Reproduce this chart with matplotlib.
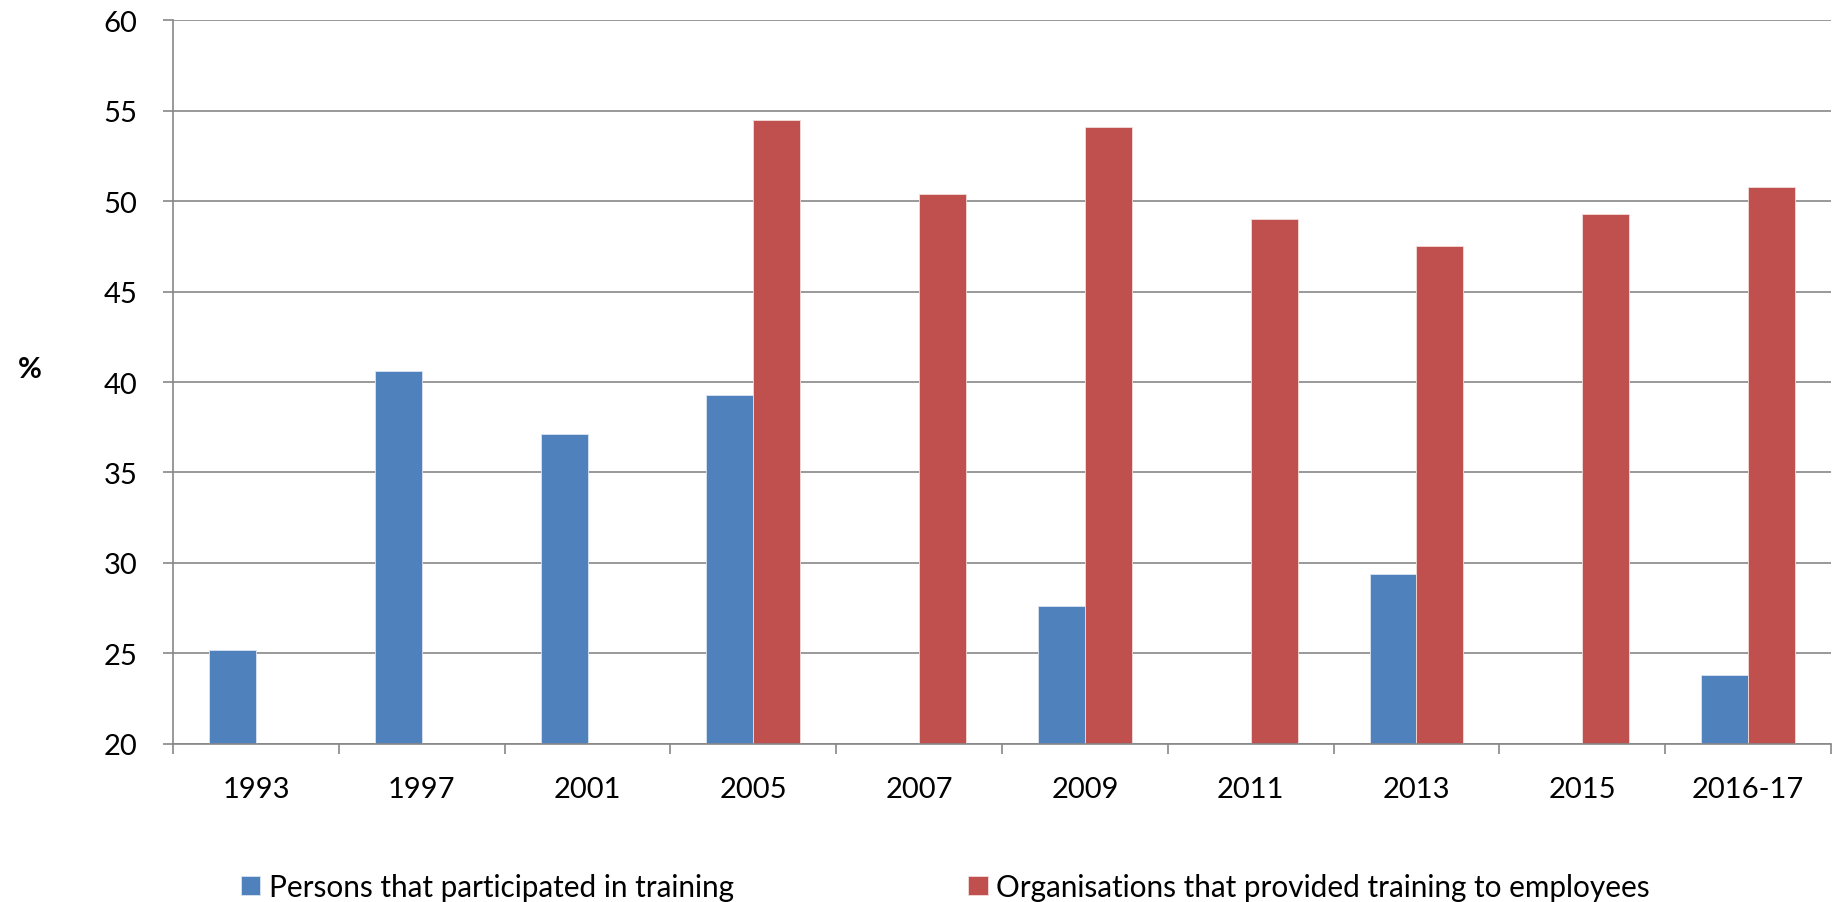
import matplotlib.pyplot as plt
import numpy as np

plt.rcParams['font.family'] = ['Lato', 'DejaVu Sans']

# survey years and the two series (%), nan where there is no figure
years = ['1993', '1997', '2001', '2005', '2007', '2009', '2011', '2013', '2015', '2016-17']
persons = [25.2, 40.6, 37.1, 39.3, np.nan, 27.6, np.nan, 29.4, np.nan, 23.8]
organisations = [np.nan, np.nan, np.nan, 54.5, 50.4, 54.1, 49.0, 47.5, 49.3, 50.8]
series_names = ['Persons that participated in training',
                'Organisations that provided training to employees']

blue = '#4F81BD'
red = '#C0504D'
grid_grey = '#878787'

fig = plt.figure(figsize=(18.45, 9.03), dpi=100)
ax = fig.add_axes([0.0938, 0.175, 0.8986, 0.8017])

x = np.arange(len(years))
w = 0.283
b1 = ax.bar(x - w / 2, persons, w, color=blue, edgecolor='#dbe5f1', linewidth=0.6,
            label=series_names[0])
b2 = ax.bar(x + w / 2, organisations, w, color=red, edgecolor='#f2dcdb', linewidth=0.6,
            label=series_names[1])

ax.set_xlim(-0.5, len(years) - 0.5)
ax.set_ylim(20, 60)
ax.set_yticks(np.arange(20, 61, 5))
ax.yaxis.grid(True, color=grid_grey, linewidth=1.2)
ax.set_axisbelow(True)

# category labels in the middle, small ticks on the boundaries
ax.set_xticks(x)
ax.set_xticklabels(years)
ax.set_xticks(np.arange(-0.5, len(years)), minor=True)
ax.tick_params(axis='x', which='major', length=0, pad=23, labelsize=21)
ax.tick_params(axis='x', which='minor', length=7.5, width=1.2, color=grid_grey, direction='out')
ax.tick_params(axis='y', length=7.5, width=1.2, color=grid_grey, pad=18, labelsize=21)

for side in ['top', 'right']:
    ax.spines[side].set_visible(False)
for side in ['left', 'bottom']:
    ax.spines[side].set_color(grid_grey)
    ax.spines[side].set_linewidth(1.2)

fig.text(30 / 1845, 1 - 370 / 903, '%', fontsize=21, fontweight='bold',
         ha='center', va='center')

fig.legend(handles=[b1, b2], loc='center left', bbox_to_anchor=(241 / 1845, 1 - 888 / 903),
           ncol=2, frameon=False, fontsize=21.4, borderpad=0, borderaxespad=0,
           handlelength=0.65, handleheight=0.65, handletextpad=0.28, columnspacing=7.9)

fig.savefig('out.png', dpi=100)
